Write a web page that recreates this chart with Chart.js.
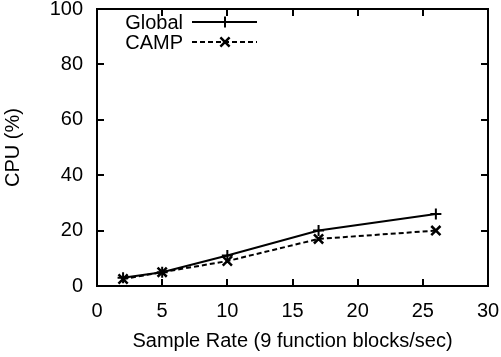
<!DOCTYPE html>
<html><head><meta charset="utf-8">
<script src="https://cdn.jsdelivr.net/npm/chart.js@4/dist/chart.umd.min.js"></script>
<style>html,body{margin:0;padding:0;background:#fff}#wrap{width:501px;height:357px}</style>
</head><body><div id="wrap"><canvas id="c" width="501" height="357"></canvas></div>
<script>
const sampleRates = [2, 5, 10, 17, 26];
const globalCpu = [3, 5, 11, 20, 26];
const campCpu = [2.5, 5, 9, 17, 20];
const seriesNames = ['Global', 'CAMP'];
const xTitle = 'Sample Rate (9 function blocks/sec)';
const yTitle = 'CPU (%)';
const FONT = '"Liberation Sans", Arial, Helvetica, sans-serif';
const FS = 20;

const frame = {
  id: 'frame',
  afterDatasetsDraw(chart) {
    const {ctx, chartArea: a, scales: {x, y}} = chart;
    ctx.save();
    ctx.strokeStyle = '#000';
    ctx.lineWidth = 2;
    ctx.setLineDash([]);
    ctx.strokeRect(a.left, a.top, a.right - a.left, a.bottom - a.top);
    const tl = 7;
    ctx.beginPath();
    x.ticks.forEach(t => {
      const px = Math.round(x.getPixelForValue(t.value));
      ctx.moveTo(px, a.bottom); ctx.lineTo(px, a.bottom - tl);
      ctx.moveTo(px, a.top); ctx.lineTo(px, a.top + tl);
    });
    y.ticks.forEach(t => {
      const py = Math.round(y.getPixelForValue(t.value));
      ctx.moveTo(a.left, py); ctx.lineTo(a.left + tl, py);
      ctx.moveTo(a.right, py); ctx.lineTo(a.right - tl, py);
    });
    ctx.stroke();
    // legend
    ctx.font = FS + 'px ' + FONT;
    ctx.fillStyle = '#000';
    ctx.textAlign = 'right';
    ctx.textBaseline = 'middle';
    chart.data.datasets.forEach((ds, i) => {
      const yy = 22 + i * 20;
      ctx.fillText(ds.label, 183, yy + 1);
      ctx.lineWidth = 2;
      ctx.setLineDash(ds.borderDash || []);
      ctx.beginPath(); ctx.moveTo(192, yy); ctx.lineTo(257, yy); ctx.stroke();
      ctx.setLineDash([]);
      const cx = 225, r = ds.pointRadius;
      ctx.lineWidth = ds.pointBorderWidth;
      ctx.beginPath();
      if (ds.pointStyle === 'cross') {
        ctx.moveTo(cx - r, yy); ctx.lineTo(cx + r, yy);
        ctx.moveTo(cx, yy - r); ctx.lineTo(cx, yy + r);
      } else {
        const d = r * 0.7071;
        ctx.moveTo(cx - d, yy - d); ctx.lineTo(cx + d, yy + d);
        ctx.moveTo(cx - d, yy + d); ctx.lineTo(cx + d, yy - d);
      }
      ctx.stroke();
    });
    ctx.restore();
  }
};

new Chart(document.getElementById('c'), {
  type: 'line',
  data: {
    datasets: [
      {label: seriesNames[0], data: sampleRates.map((v, i) => ({x: v, y: globalCpu[i]})),
       borderColor: '#000', backgroundColor: '#000', borderWidth: 2, pointStyle: 'cross',
       pointRadius: 5.5, pointBorderWidth: 2, fill: false, tension: 0},
      {label: seriesNames[1], data: sampleRates.map((v, i) => ({x: v, y: campCpu[i]})),
       borderColor: '#000', backgroundColor: '#000', borderWidth: 2, borderDash: [5, 3], pointStyle: 'crossRot',
       pointRadius: 6.5, pointBorderWidth: 2.5, fill: false, tension: 0}
    ]
  },
  options: {
    responsive: false, animation: false, devicePixelRatio: 1,
    layout: {padding: {left: 0, top: 4, right: 13, bottom: 0}},
    plugins: {legend: {display: false}, tooltip: {enabled: false}},
    scales: {
      x: {type: 'linear', min: 0, max: 30,
          ticks: {stepSize: 5, padding: 13, color: '#000', font: {family: FONT, size: FS}, maxRotation: 0},
          grid: {display: false, drawTicks: false}, border: {display: false},
          title: {display: true, text: xTitle, color: '#000', font: {family: FONT, size: FS}, padding: {top: 0, bottom: 4}},
          afterFit(s) { s.height = 71; s.paddingLeft = 0; s.paddingRight = 0; }},
      y: {min: 0, max: 100,
          ticks: {stepSize: 20, padding: 14, color: '#000', font: {family: FONT, size: FS}},
          grid: {display: false, drawTicks: false}, border: {display: false},
          title: {display: true, text: yTitle, color: '#000', font: {family: FONT, size: FS}, padding: {top: 1, bottom: 0}},
          afterFit(s) { s.width = 97; s.paddingTop = 0; s.paddingBottom = 0; }}
    }
  },
  plugins: [frame]
});
</script></body></html>
